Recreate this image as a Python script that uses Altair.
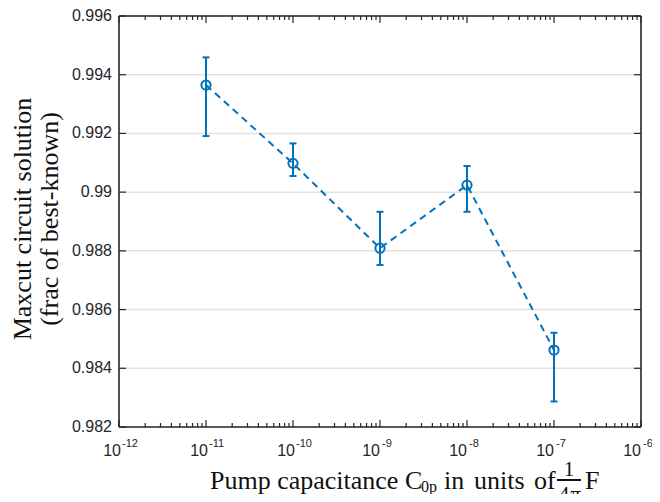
import altair as alt
import pandas as pd

# ---- data ----
capacitance = [1e-11, 1e-10, 1e-9, 1e-8, 1e-7]
mean_frac = [0.99365, 0.99098, 0.98809, 0.99024, 0.98462]
err_low = [0.99191, 0.99055, 0.98752, 0.98933, 0.98287]
err_high = [0.99459, 0.99166, 0.98933, 0.99089, 0.98521]

x_major = [1e-12, 1e-11, 1e-10, 1e-9, 1e-8, 1e-7, 1e-6]
x_exponents = ["-12", "-11", "-10", "-9", "-8", "-7", "-6"]
x_minor = [k * p for p in x_major[:-1] for k in range(2, 10)]
y_ticks = [0.982, 0.984, 0.986, 0.988, 0.990, 0.992, 0.994, 0.996]

BLUE = "#0072BD"
AX = "#262626"
TXT = "#111111"
W, H = 522, 411

df = pd.DataFrame({"c": capacitance, "m": mean_frac, "lo": err_low, "hi": err_high})
major_df = pd.DataFrame({"v": x_major, "e": x_exponents})
major_df["long"] = major_df["e"].str.len() > 2
minor_df = pd.DataFrame({"v": x_minor})
yt_df = pd.DataFrame({"v": y_ticks})
one = pd.DataFrame({"k": [0]})

xs = alt.Scale(type="log", domain=[1e-12, 1e-6])
ys = alt.Scale(domain=[0.982, 0.996], nice=False, zero=False)

X = lambda f: alt.X(f, scale=xs, axis=None)
Y = lambda f: alt.Y(f, scale=ys, axis=None)

# grid
grid = alt.Chart(yt_df).mark_rule(color="#e2e2e2", strokeWidth=1.5).encode(
    y=Y("v:Q"), x=alt.value(0), x2=alt.value(W))

# y tick labels
ylab = alt.Chart(yt_df).mark_text(align="right", baseline="middle", dx=-7,
                                  font="Liberation Sans", fontSize=16, color=AX).encode(
    y=Y("v:Q"), x=alt.value(0), text=alt.Text("v:Q", format=".3~f"))

base = alt.Chart(df)
line = base.mark_line(color=BLUE, strokeWidth=2, strokeDash=[7, 5]).encode(x=X("c:Q"), y=Y("m:Q"))
pts = base.mark_point(shape="circle", filled=False, size=85, strokeWidth=2, color=BLUE, opacity=1).encode(
    x=X("c:Q"), y=Y("m:Q"))
ebar = base.mark_rule(color=BLUE, strokeWidth=2).encode(x=X("c:Q"), y=Y("lo:Q"), y2="hi:Q")
cap_lo = base.mark_tick(orient="horizontal", size=7, thickness=2, color=BLUE, opacity=1).encode(
    x=X("c:Q"), y=Y("lo:Q"))
cap_hi = base.mark_tick(orient="horizontal", size=7, thickness=2, color=BLUE, opacity=1).encode(
    x=X("c:Q"), y=Y("hi:Q"))

# inward ticks
def xticks(data, length):
    b = alt.Chart(data).mark_rule(color=AX, strokeWidth=1.2)
    bot = b.encode(x=X("v:Q"), y=alt.value(H), y2=alt.value(H - length))
    top = b.encode(x=X("v:Q"), y=alt.value(0), y2=alt.value(length))
    return [bot, top]

yb = alt.Chart(yt_df).mark_rule(color=AX, strokeWidth=1.2)
yl = yb.encode(y=Y("v:Q"), x=alt.value(0), x2=alt.value(7))
yr = yb.encode(y=Y("v:Q"), x=alt.value(W - 7), x2=alt.value(W))

# box
def hrule(y):
    return alt.Chart(one).mark_rule(color=AX, strokeWidth=1.6).encode(
        x=alt.value(0), x2=alt.value(W), y=alt.value(y))

def vrule(x):
    return alt.Chart(one).mark_rule(color=AX, strokeWidth=1.6).encode(
        x=alt.value(x), y=alt.value(0), y2=alt.value(H))

box = [hrule(0), hrule(H), vrule(0), vrule(W)]

# x tick labels 10^n
def xlabels(long_flag, dx_base, dx_exp):
    d = major_df[major_df["long"] == long_flag]
    c = alt.Chart(d)
    b10 = c.mark_text(text="10", align="right", baseline="alphabetic", dx=dx_base,
                      font="Liberation Sans", fontSize=16, color=AX).encode(
        x=X("v:Q"), y=alt.value(440))
    ex = c.mark_text(align="left", baseline="alphabetic", dx=dx_exp,
                     font="Liberation Sans", fontSize=11, color=AX).encode(
        x=X("v:Q"), y=alt.value(431), text="e:N")
    return [b10, ex]

# titles
def txt(s, x, y, size, align="left", angle=0, style="normal", font="Liberation Serif"):
    return alt.Chart(one).mark_text(text=s, align=align, baseline="alphabetic", angle=angle,
                                    font=font, fontSize=size, fontStyle=style, color=TXT).encode(
        x=alt.value(x), y=alt.value(y))

titles = [
    txt("Maxcut circuit solution", -88, 203, 26, align="center", angle=270),
    txt("(frac of best-known)", -61, 203, 26, align="center", angle=270),
    txt("Pump capacitance C", 91, 473, 26),
    txt("0p", 302, 476, 16),
    txt("in", 325, 473, 26),
    txt("units", 355, 473, 26),
    txt("of", 415, 473, 26),
    txt("1", 450, 460, 21, align="center"),
    txt("4", 445, 485, 21, align="center"),
    txt("π", 456, 485, 21, align="center", style="italic"),
    txt("F", 466, 473, 26),
    alt.Chart(one).mark_rule(color=TXT, strokeWidth=2).encode(
        x=alt.value(438), x2=alt.value(462), y=alt.value(464)),
]

layers = ([grid, line] + xticks(major_df, 7) + xticks(minor_df, 4) + [yl, yr]
          + [ebar, cap_lo, cap_hi, pts] + box + [ylab]
          + xlabels(True, 2, 3) + xlabels(False, 0, 2) + titles)

chart = alt.layer(*layers).properties(
    width=W, height=H,
    padding={"left": 111, "top": 8, "right": 11, "bottom": 67},
    autosize=alt.AutoSizeParams(type="none"),
).configure_view(stroke=None)

chart.save("out.html", embed_options={"renderer": "svg", "actions": False})
